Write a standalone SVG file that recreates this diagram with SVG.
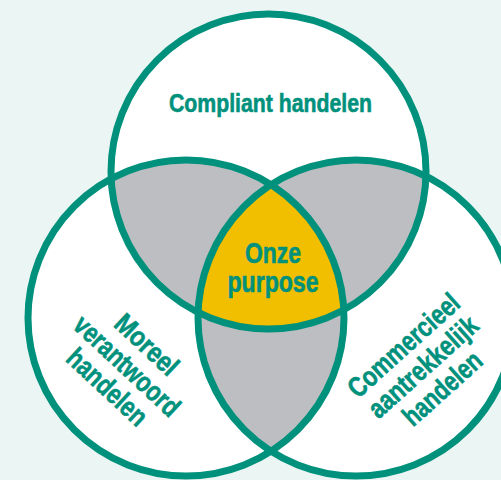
<svg xmlns="http://www.w3.org/2000/svg" width="501" height="480" viewBox="0 0 501 480">
<style>
.ring{fill:none;stroke:#00917D;stroke-width:7}
.base{fill:#FFFFFF}
.gray{fill:#BCBEC1}
.yel{fill:#F2BF00}
.lbl{font-family:"Liberation Sans Narrow","Liberation Sans",Arial,sans-serif;font-weight:bold;fill:#00917D;stroke:#00917D;stroke-width:0.6;text-anchor:middle}
</style>
<defs>
<clipPath id="cT"><circle cx="268.5" cy="171.5" r="157.5"/></clipPath>
<clipPath id="cL"><circle cx="186" cy="318" r="158"/></clipPath>
<clipPath id="cR"><circle cx="356" cy="318" r="158"/></clipPath>
</defs>
<rect x="0" y="0" width="501" height="480" fill="#EBF5F3"/>
<g id="fills">
<circle class="base" cx="268.5" cy="171.5" r="157.5"/>
<circle class="base" cx="186" cy="318" r="158"/>
<circle class="base" cx="356" cy="318" r="158"/>
<circle class="gray" cx="186" cy="318" r="158" clip-path="url(#cT)"/>
<circle class="gray" cx="356" cy="318" r="158" clip-path="url(#cT)"/>
<circle class="gray" cx="356" cy="318" r="158" clip-path="url(#cL)"/>
<g clip-path="url(#cT)"><circle class="yel" cx="356" cy="318" r="158" clip-path="url(#cL)"/></g>
</g>
<g id="compliant">
<circle class="ring" cx="268.5" cy="171.5" r="157.5"/>
<text class="lbl" x="270.5" y="112" font-size="26.5" textLength="203" lengthAdjust="spacingAndGlyphs">Compliant handelen</text>
</g>
<g id="moreel">
<circle class="ring" cx="186" cy="318" r="158"/>
<g transform="translate(126,367) rotate(43)">
<text class="lbl" x="0" y="-21" font-size="28" textLength="76" lengthAdjust="spacingAndGlyphs">Moreel</text>
<text class="lbl" x="0" y="8" font-size="28" textLength="134" lengthAdjust="spacingAndGlyphs">verantwoord</text>
<text class="lbl" x="0" y="37" font-size="28" textLength="99" lengthAdjust="spacingAndGlyphs">handelen</text>
</g>
</g>
<g id="commercieel">
<circle class="ring" cx="356" cy="318" r="158"/>
<g transform="translate(424,368) rotate(-42)">
<text class="lbl" x="0" y="-21" font-size="28" textLength="140" lengthAdjust="spacingAndGlyphs">Commercieel</text>
<text class="lbl" x="0" y="8" font-size="28" textLength="137" lengthAdjust="spacingAndGlyphs">aantrekkelijk</text>
<text class="lbl" x="0" y="37" font-size="28" textLength="96" lengthAdjust="spacingAndGlyphs">handelen</text>
</g>
</g>
<g id="purpose">
<text class="lbl" x="273" y="263" font-size="29" textLength="56" lengthAdjust="spacingAndGlyphs">Onze</text>
<text class="lbl" x="273" y="291.5" font-size="29" textLength="91" lengthAdjust="spacingAndGlyphs">purpose</text>
</g>
</svg>
